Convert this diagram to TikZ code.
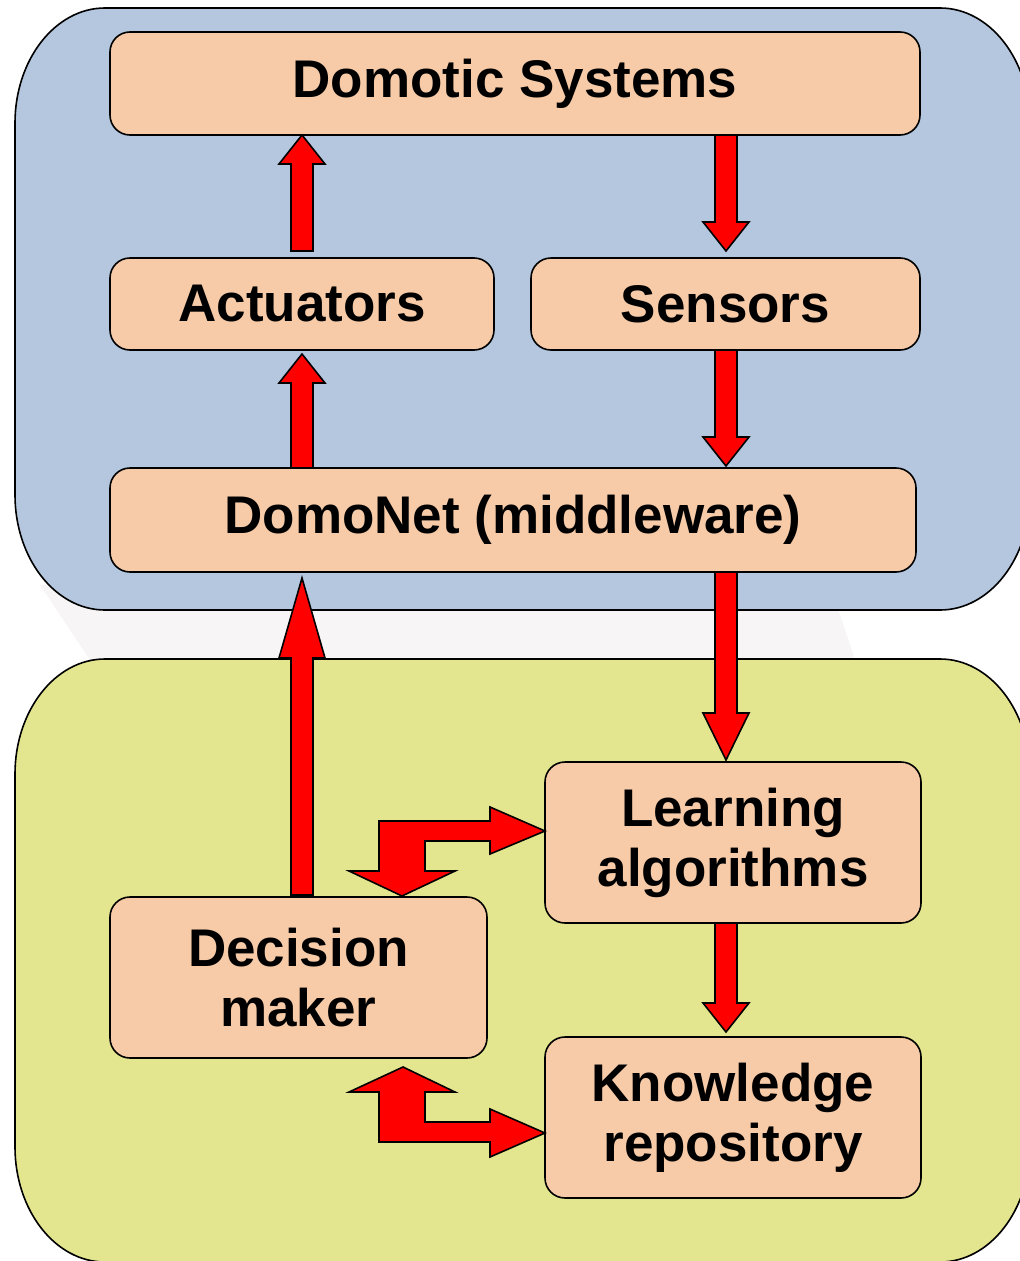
\documentclass[tikz,border=0pt]{standalone}
\usepackage{fontspec}
\setmainfont{Liberation Sans}
\usetikzlibrary{calc}

\definecolor{layerblue}{RGB}{180,199,222}
\definecolor{layergreen}{RGB}{228,230,143}
\definecolor{peach}{RGB}{247,203,168}
\definecolor{ghost}{RGB}{247,245,245}

% straight block arrow: [head length]{from}{to}, vertical
\newcommand\redblock[3][29]{%
  \path[redblock] let \p1=(#2), \p2=(#3), \n1={sign(\y2-\y1)*#1} in
    (\x1-11pt,\y1) -- (\x1-11pt,\y2-\n1*1pt) -- (\x1-23pt,\y2-\n1*1pt) -- (\x1,\y2)
    -- (\x1+23pt,\y2-\n1*1pt) -- (\x1+11pt,\y2-\n1*1pt) -- (\x1+11pt,\y1) -- cycle;}

\begin{document}
\begin{tikzpicture}[x=1pt,y=-1pt,
    box/.style={draw=black,line width=1.6pt,fill=peach,rounded corners=20pt,align=center,
      font=\bfseries\fontsize{53}{60}\selectfont,inner sep=0pt,outer sep=0pt},
    redblock/.style={draw=black,line width=1.6pt,fill=red,line join=miter},
    layer/.style={draw=black,line width=1.6pt}]
\useasboundingbox (0,0) rectangle (1020,1261);

% faint reflection between the layers
\fill[ghost] (40,585) -- (830,585) -- (865,690) -- (110,690) -- cycle;

% layers
\path[layer,fill=layerblue] (105,8) -- (940,8) .. controls (990,8) and (1030,60) .. (1030,123)
  -- (1030,495) .. controls (1030,558) and (990,610) .. (940,610)
  -- (105,610) .. controls (55,610) and (15,558) .. (15,495)
  -- (15,123) .. controls (15,60) and (55,8) .. (105,8) -- cycle;
\path[layer,fill=layergreen] (105,659) -- (940,659) .. controls (990,659) and (1030,711) .. (1030,774)
  -- (1030,1147) .. controls (1030,1210) and (990,1262) .. (940,1262)
  -- (105,1262) .. controls (55,1262) and (15,1210) .. (15,1147)
  -- (15,774) .. controls (15,711) and (55,659) .. (105,659) -- cycle;

% boxes
\node[box,minimum width=810pt,minimum height=103pt] (dom) at (515,83.5) {Domotic Systems};
\node[box,minimum width=384pt,minimum height=92pt] (act) at (302,304) {Actuators};
\node[box,minimum width=389pt,minimum height=92pt] (sen) at (725.5,304) {Sensors};
\node[box,minimum width=806pt,minimum height=104pt] (net) at (513,520) {DomoNet (middleware)};
\node[box,minimum width=376pt,minimum height=161pt] (learn) at (733,842.5) {Learning\\algorithms};
\node[box,minimum width=377pt,minimum height=161pt] (dec) at (298.5,977.5) {Decision\\maker};
\node[box,minimum width=376pt,minimum height=161pt] (know) at (733,1117.5) {Knowledge\\repository};
\coordinate (rcol) at (726,0);

% arrows
\redblock{$(act.north)+(0,-7)$}{dom.south -| act.north}
\redblock{dom.south -| rcol}{$(sen.north -| rcol)+(0,-7)$}
\redblock{net.north -| act.north}{$(act.south)+(0,4)$}
\redblock{sen.south -| rcol}{$(net.north -| rcol)+(0,-2)$}
\redblock[80]{$(dec.north -| act.north)+(0,-2)$}{$(net.south -| act.north)+(0,6)$}
\redblock[47]{net.south -| rcol}{$(learn.north -| rcol)+(0,-2)$}
\redblock{learn.south -| rcol}{$(know.north -| rcol)+(0,-5)$}

% double bent arrows
\path[redblock] ($(learn.west)+(0,-11.5)$) -- ++(-55,-24) -- ++(0,14) -- ++(-111,0) -- ++(0,50)
  -- ++(-30,0) -- ++(53,25) -- ++(53,-25) -- ++(-30,0) -- ++(0,-30) -- ++(65,0) -- ++(0,13) -- cycle;
\path[redblock] ($(know.west)+(0,15.5)$) -- ++(-55,-24) -- ++(0,13) -- ++(-65,0) -- ++(0,-30)
  -- ++(30,0) -- ++(-52,-25) -- ++(-54,25) -- ++(30,0) -- ++(0,50) -- ++(111,0) -- ++(0,15) -- cycle;
\end{tikzpicture}
\end{document}
